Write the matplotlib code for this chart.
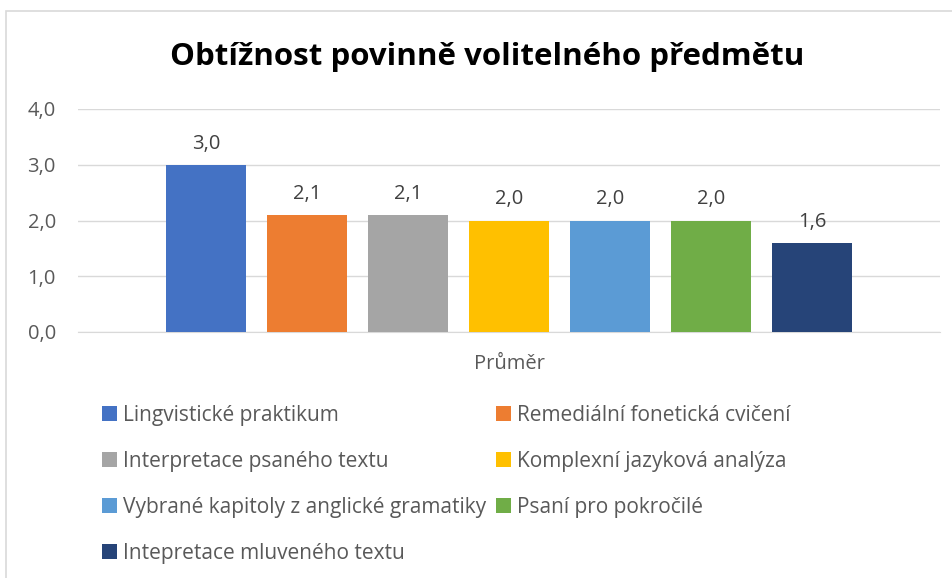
"""Obtížnost povinně volitelného předmětu - sloupcový graf s legendou."""
import matplotlib.pyplot as plt
from matplotlib.patches import Rectangle

subjects = ['Lingvistické praktikum', 'Remediální fonetická cvičení',
            'Interpretace psaného textu', 'Komplexní jazyková analýza',
            'Vybrané kapitoly z anglické gramatiky', 'Psaní pro pokročilé',
            'Intepretace mluveného textu']
values = [3.0, 2.1, 2.1, 2.0, 2.0, 2.0, 1.6]
colors = ['#4472C4', '#ED7D31', '#A5A5A5', '#FFC000', '#5B9BD5', '#70AD47', '#264478']
category = 'Průměr'
yticks = [0, 1, 2, 3, 4]

plt.rcParams['font.family'] = ['Open Sans', 'DejaVu Sans']
txt = '#595959'

fig = plt.figure(figsize=(9.53, 5.78), dpi=100)
fig.patches.append(Rectangle((6 / 953, -0.1), 1.2, (578 - 11) / 578 + 0.1,
                             transform=fig.transFigure, fill=False,
                             edgecolor='#d9d9d9', lw=1.2))

ax = fig.add_axes([78 / 953, 246 / 578, 862 / 953, 223 / 578])
step = 101 / 862
width = 80 / 862
bars = []
for i, (name, v, c) in enumerate(zip(subjects, values, colors)):
    x = (i - 3) * step
    b = ax.bar(x, v, width, color=c, label=name, zorder=3)
    bars.append(b)
    ax.text(x, v + 0.2, f'{v:.1f}'.replace('.', ','), ha='center', va='bottom',
            fontsize=14.5, color='#404040')

ax.set_xlim(-0.5, 0.5)
ax.set_ylim(0, 4)
ax.set_yticks(yticks)
ax.set_yticklabels([f'{t:.1f}'.replace('.', ',') for t in yticks], fontsize=14.5, color=txt)
ax.set_xticks([0])
ax.set_xticklabels([category], fontsize=14.5, color=txt)
ax.tick_params(length=0, pad=16)
ax.tick_params(axis='x', pad=16)
ax.grid(axis='y', color='#d9d9d9', lw=1, zorder=0)
for s in ['top', 'right', 'left']:
    ax.spines[s].set_visible(False)
ax.spines['bottom'].set_color('#d9d9d9')

fig.text(487 / 953, (578 - 57) / 578, 'Obtížnost povinně volitelného předmětu',
         ha='center', va='center', fontsize=22.5, fontweight='bold', color='black')

order = [0, 2, 4, 6, 1, 3, 5]
leg = fig.legend([bars[i] for i in order], [subjects[i] for i in order],
                 loc='upper left', bbox_to_anchor=(102 / 953, (578 - 405) / 578),
                 ncol=2, frameon=False, fontsize=15, handlelength=0.72,
                 handleheight=0.72, handletextpad=0.3, labelspacing=1.2,
                 columnspacing=0.45, borderaxespad=0, borderpad=0)
for t in leg.get_texts():
    t.set_color(txt)

fig.savefig('out.png', dpi=100)
